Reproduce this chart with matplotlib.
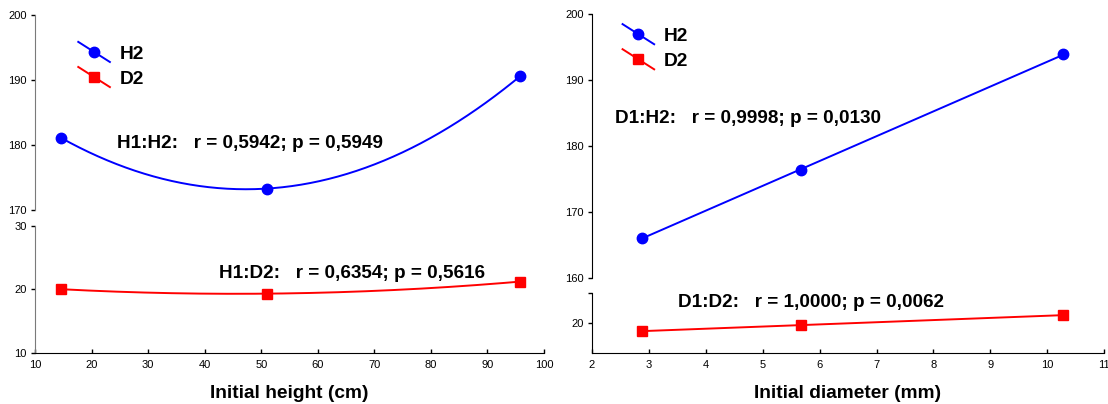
import numpy as np
import matplotlib
matplotlib.use('Agg')
import matplotlib.pyplot as plt
from matplotlib.lines import Line2D
from matplotlib.legend_handler import HandlerLine2D

plt.rcParams['font.family'] = ['Liberation Sans', 'DejaVu Sans']

# data
height_x = [14.6, 51.1, 95.8]          # initial height (cm)
height_h2 = [181.1, 173.3, 190.6]
height_d2 = [20.0, 19.3, 21.2]

diam_x = [2.885, 5.68, 10.27]          # initial diameter (mm)
diam_h2 = [166.1, 176.3, 193.9]
diam_d2 = [18.6, 19.7, 21.3]

left_notes = ['H1:H2:   r = 0,5942; p = 0,5949', 'H1:D2:   r = 0,6354; p = 0,5616']
right_notes = ['D1:H2:   r = 0,9998; p = 0,0130', 'D1:D2:   r = 1,0000; p = 0,0062']

BLUE = '#0000ff'
RED = '#ff0000'
W, H = 1108, 404


def box(x0, y0, x1, y1):
    return [x0 / W, 1 - y1 / H, (x1 - x0) / W, (y1 - y0) / H]


class DiagHandler(HandlerLine2D):
    # Statistica style legend key: slanted line with the marker in the middle
    def create_artists(self, legend, orig_handle, xdescent, ydescent,
                       width, height, fontsize, trans):
        ym = height / 2 - ydescent
        dy = 0.75 * height
        x0, x1 = -xdescent, width - xdescent
        ln = Line2D([x0, x1], [ym + dy, ym - dy], color=orig_handle.get_color(),
                    lw=orig_handle.get_linewidth())
        mk = Line2D([(x0 + x1) / 2], [ym], marker=orig_handle.get_marker(),
                    color=orig_handle.get_color(), ms=orig_handle.get_markersize(),
                    linestyle='none')
        ln.set_transform(trans)
        mk.set_transform(trans)
        return [ln, mk]


def style_top(ax, spine_color):
    for s in ['top', 'right', 'bottom']:
        ax.spines[s].set_visible(False)
    ax.spines['left'].set_color(spine_color)
    ax.tick_params(axis='y', direction='out', length=3, width=1, pad=3, labelsize=8)
    ax.tick_params(axis='x', bottom=False, labelbottom=False)
    ax.patch.set_visible(False)


def style_bottom(ax, spine_color):
    for s in ['top', 'right']:
        ax.spines[s].set_visible(False)
    ax.spines['left'].set_color(spine_color)
    ax.tick_params(axis='y', direction='out', length=3, width=1, pad=3, labelsize=8)
    ax.tick_params(axis='x', direction='in', length=3, width=1, pad=5, labelsize=8)
    ax.patch.set_visible(False)


def panel(top_box, bot_box, x, h2, d2, deg, xlim, xticks, top_lim, top_ticks,
          bot_lim, bot_ticks, bot_labels, notes, note_pos, xlabel,
          spine_color, leg_anchor):
    ax1 = fig.add_axes(box(*top_box))
    ax2 = fig.add_axes(box(*bot_box))
    xs = np.linspace(min(x), max(x), 200)
    ph = np.polyval(np.polyfit(x, h2, deg), xs)
    pd_ = np.polyval(np.polyfit(x, d2, deg), xs)
    ax1.plot(xs, ph, color=BLUE, lw=1.4)
    l1, = ax1.plot(x, h2, 'o', color=BLUE, ms=7.5, lw=1.4, label='H2')
    ax2.plot(xs, pd_, color=RED, lw=1.4)
    l2, = ax2.plot(x, d2, 's', color=RED, ms=7.5, lw=1.4, label='D2')
    for ax in (ax1, ax2):
        ax.set_xlim(*xlim)
    ax1.set_ylim(*top_lim)
    ax1.set_yticks(top_ticks)
    ax2.set_ylim(*bot_lim)
    ax2.set_yticks(bot_ticks)
    ax2.set_yticklabels(bot_labels)
    ax2.set_xticks(xticks)
    style_top(ax1, spine_color)
    style_bottom(ax2, spine_color)
    ax1.text(note_pos[0][0], note_pos[0][1], notes[0], fontsize=13.6, fontweight='bold', va='center')
    ax2.text(note_pos[1][0], note_pos[1][1], notes[1], fontsize=13.6, fontweight='bold', va='center')
    ax2.set_xlabel(xlabel, fontsize=13.8, fontweight='bold', labelpad=11)
    ax1.legend([l1, l2], ['H2', 'D2'], handler_map={Line2D: DiagHandler()},
               loc='upper left', bbox_to_anchor=leg_anchor, frameon=False,
               prop={'size': 13.8, 'weight': 'bold'}, handlelength=1.65,
               handletextpad=0.5, labelspacing=0.4, borderpad=0, borderaxespad=0)


fig = plt.figure(figsize=(11.08, 4.04), dpi=100)

panel((35, 15, 544, 210), (35, 225.7, 544, 352.7), height_x, height_h2, height_d2, 2,
      (10, 100), np.arange(10, 101, 10), (170, 200), [170, 180, 190, 200],
      (10, 30), [10, 20, 30], ['10', '20', '30'],
      left_notes, [(24.5, 180.3), (42.5, 22.4)], 'Initial height (cm)', '#7a7a7a',
      (0.085, 0.845))

panel((591.8, 14.3, 1104.3, 277.7), (591.8, 293.3, 1104.3, 352.7), diam_x, diam_h2, diam_d2, 1,
      (2, 11), np.arange(2, 12, 1), (160, 200), [160, 170, 180, 190, 200],
      (15, 25), [20, 25], ['20', ''],
      right_notes, [(2.41, 184.2), (3.51, 23.4)], 'Initial diameter (mm)', 'black',
      (0.06, 0.95))

fig.savefig('out.png', dpi=100)
